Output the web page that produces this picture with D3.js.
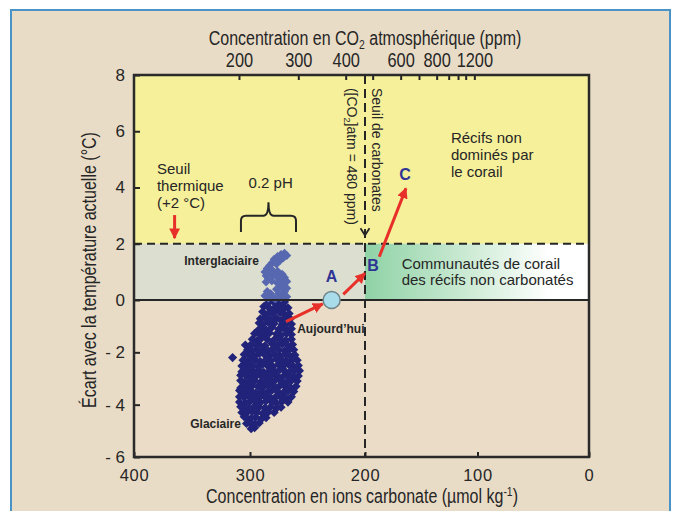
<!DOCTYPE html>
<html><head><meta charset="utf-8">
<script src="https://cdn.jsdelivr.net/npm/d3@7"></script>
<style>
html,body{margin:0;padding:0;background:#fff;}
svg{display:block;}
</style></head><body>
<svg id="chart" width="675" height="511"></svg>
<script>
// ---- data ----
const carbonateTicks = [400, 300, 200, 100, 0];
const tempTicks = [8, 6, 4, 2, 0, -2, -4, -6];
const co2Ticks = [200, 300, 400, 500, 600, 700, 800, 900, 1000, 1100, 1200];
const co2Labelled = [200, 300, 400, 600, 800, 1200];
const co2AsCarbonate = [309.5, 258, 216.8, 193.2, 168.3, 152, 136.3, 125.6, 117.3, 110.5, 102.8];
const thermalThreshold = 2;
const carbonateThreshold = 200;
const pH02Range = [307.8, 260];

const interglacial = [
  [270,1.66],[273,1.62],[268,1.58],[276,1.55],[271,1.5],[279,1.45],[274,1.4],[281,1.32],[277,1.28],[283,1.22],
  [285,1.12],[281,1.08],[287,1.0],[283,0.95],[286,0.86],[280,0.9],[284,0.76],[281,0.68],[286,0.64],
  [276,1.02],[272,0.92],[277,0.84],[270,0.8],[274,0.72],[268,0.66],[276,0.6],[271,0.54],[273,0.45],[268,0.42],
  [277,0.38],[270,0.3],[275,0.22],[271,0.16],
  [285,0.3],[282,0.22],[287,0.15],[280,0.1],[284,0.06],[278,0.04],[273,0.08],[268,0.12]
];

const glacial = [
  [270,-0.08],[275,-0.12],[280,-0.05],[284,-0.1],[272,-0.2],
  [267,-0.3],[271,-0.35],[278,-0.28],[283,-0.32],[288,-0.25],[275,-0.4],
  [266,-0.52],[270,-0.55],[274,-0.48],[280,-0.5],[285,-0.55],[289,-0.45],
  [265,-0.72],[269,-0.68],[277,-0.7],[282,-0.75],[287,-0.68],[291,-0.72],[273,-0.78],
  [264,-0.92],[268,-0.88],[272,-0.95],[279,-0.9],[284,-0.86],[289,-0.94],[292,-0.88],
  [264,-1.1],[267,-1.15],[271,-1.08],[275,-1.12],[281,-1.05],[286,-1.14],[290,-1.1],[293,-1.16],
  [264,-1.32],[268,-1.28],[273,-1.35],[277,-1.3],[283,-1.26],[288,-1.34],[292,-1.3],[296,-1.28],
  [264,-1.5],[269,-1.54],[274,-1.48],[279,-1.52],[285,-1.5],[290,-1.46],[294,-1.55],[298,-1.5],
  [304,-1.72],
  [263,-1.7],[267,-1.74],[272,-1.68],[276,-1.72],[281,-1.66],[287,-1.75],[292,-1.7],[296,-1.68],[300,-1.74],
  [262,-1.9],[266,-1.88],[270,-1.94],[275,-1.9],[280,-1.86],[284,-1.95],[289,-1.9],[294,-1.88],[298,-1.94],[302,-1.9],
  [261,-2.1],[265,-2.14],[269,-2.08],[274,-2.12],[279,-2.06],[283,-2.15],[287,-2.1],[292,-2.05],[296,-2.14],[301,-2.1],[305,-2.08],
  [315,-2.2],
  [259,-2.3],[263,-2.28],[268,-2.34],[272,-2.3],[277,-2.26],[282,-2.32],[286,-2.28],[291,-2.35],[295,-2.3],[300,-2.26],[304,-2.32],[306,-2.3],
  [258,-2.5],[262,-2.54],[266,-2.48],[271,-2.52],[275,-2.46],[280,-2.54],[285,-2.5],[289,-2.46],[293,-2.55],[298,-2.5],[302,-2.48],[307,-2.52],
  [257,-2.7],[261,-2.68],[265,-2.74],[270,-2.7],[274,-2.66],[279,-2.72],[283,-2.7],[288,-2.76],[292,-2.68],[297,-2.72],[301,-2.7],[305,-2.66],[307,-2.74],
  [258,-2.9],[262,-2.94],[267,-2.88],[271,-2.92],[276,-2.9],[281,-2.86],[285,-2.95],[290,-2.9],[294,-2.88],[299,-2.92],[303,-2.9],[308,-2.88],
  [259,-3.1],[264,-3.08],[268,-3.14],[273,-3.1],[278,-3.06],[282,-3.12],[287,-3.1],[291,-3.15],[296,-3.08],[300,-3.1],[305,-3.14],[308,-3.08],
  [260,-3.3],[265,-3.34],[270,-3.28],[275,-3.32],[279,-3.3],[284,-3.26],[289,-3.34],[293,-3.3],[298,-3.28],[302,-3.32],[306,-3.3],[308,-3.36],
  [262,-3.5],[267,-3.48],[271,-3.54],[276,-3.5],[281,-3.46],[285,-3.52],[290,-3.5],[295,-3.55],[299,-3.48],[303,-3.5],[307,-3.54],[309,-3.46],
  [264,-3.7],[269,-3.74],[274,-3.68],[278,-3.72],[283,-3.7],[288,-3.66],[292,-3.74],[297,-3.7],[301,-3.68],[305,-3.72],[309,-3.7],
  [267,-3.9],[272,-3.88],[277,-3.94],[281,-3.9],[286,-3.86],[291,-3.92],[295,-3.9],[300,-3.88],[304,-3.94],[309,-3.9],
  [273,-4.1],[277,-4.14],[282,-4.08],[287,-4.12],[292,-4.1],[296,-4.06],[301,-4.14],[305,-4.1],[308,-4.08],
  [279,-4.3],[284,-4.28],[289,-4.34],[294,-4.3],[298,-4.26],[303,-4.32],[307,-4.3],
  [286,-4.5],[290,-4.54],[295,-4.48],[299,-4.52],[303,-4.5],[305,-4.46],
  [292,-4.7],[296,-4.74],[300,-4.68],[303,-4.72],
  [296,-4.88],[299,-4.92],[298,-4.8]
];

const pointA = [229, 0];
const pathArrows = [
  [[268.7, -0.83], [236.8, -0.15]],
  [[218.9, 0.2], [200, 0.95]],
  [[187.3, 1.54], [163.6, 3.97]]
];
const thermalArrow = [[365, 3.02], [365, 2.2]];

// ---- scales ----
const svg = d3.select("#chart");
const x = d3.scaleLinear().domain(carbonateTicks).range([134, 250, 365, 477.5, 589]);
const y = d3.scaleLinear().domain([-6, 0, 8]).range([457, 300, 75]);
const co2x = d3.scaleLinear().domain(co2Ticks).range(co2AsCarbonate.map(x));

const SANS = "'Liberation Sans',Arial,Helvetica,sans-serif";
const INK = "#262626";
const NARROW_SCALE = "scale(0.8,1)";

// background card
svg.append("rect").attr("width", 675).attr("height", 511).attr("fill", "#fff");
svg.append("rect").attr("x", 11).attr("y", 10).attr("width", 659).attr("height", 530)
  .attr("fill", "#e9dcc6").attr("stroke", "#4a93c6").attr("stroke-width", 2);

const defs = svg.append("defs");
const grad = defs.append("linearGradient").attr("id", "greenFade")
  .attr("gradientUnits", "userSpaceOnUse")
  .attr("x1", x(carbonateThreshold)).attr("x2", x(0)).attr("y1", 0).attr("y2", 0);
grad.append("stop").attr("offset", 0).attr("stop-color", "#8fd2a6");
grad.append("stop").attr("offset", 0.45).attr("stop-color", "#cbead3");
grad.append("stop").attr("offset", 0.82).attr("stop-color", "#ffffff");
grad.append("stop").attr("offset", 1).attr("stop-color", "#ffffff");

defs.append("marker").attr("id", "redHead").attr("viewBox", "0 0 10 10")
  .attr("refX", 9).attr("refY", 5).attr("markerWidth", 3.6).attr("markerHeight", 3.6)
  .attr("orient", "auto").attr("markerUnits", "strokeWidth")
  .append("path").attr("d", "M0,0 L10,5 L0,10 Z").attr("fill", "#e8302a");

// regions
svg.append("rect").attr("x", x(400)).attr("y", y(8)).attr("width", x(0) - x(400))
  .attr("height", y(thermalThreshold) - y(8)).attr("fill", "#f6f09b");
svg.append("rect").attr("x", x(400)).attr("y", y(thermalThreshold)).attr("width", x(carbonateThreshold) - x(400))
  .attr("height", y(0) - y(thermalThreshold)).attr("fill", "#dcdecf");
svg.append("rect").attr("x", x(carbonateThreshold)).attr("y", y(thermalThreshold)).attr("width", x(0) - x(carbonateThreshold))
  .attr("height", y(0) - y(thermalThreshold)).attr("fill", "url(#greenFade)");
svg.append("rect").attr("x", x(400)).attr("y", y(0)).attr("width", x(0) - x(400))
  .attr("height", y(-6) - y(0)).attr("fill", "#eadcc6");

// scatter
svg.append("g").selectAll("path").data(glacial).join("path")
  .attr("d", d3.symbol(d3.symbolSquare, 42))
  .attr("transform", d => `translate(${x(d[0])},${y(d[1])}) rotate(45)`)
  .attr("fill", "#21237a");
svg.append("g").selectAll("path").data(interglacial).join("path")
  .attr("d", d3.symbol(d3.symbolSquare, 40))
  .attr("transform", d => `translate(${x(d[0])},${y(d[1])}) rotate(45)`)
  .attr("fill", "#5868b0");

// threshold lines
svg.append("line").attr("x1", x(400)).attr("x2", x(0)).attr("y1", y(0)).attr("y2", y(0))
  .attr("stroke", INK).attr("stroke-width", 2);
svg.append("line").attr("x1", x(400)).attr("x2", x(0)).attr("y1", y(thermalThreshold)).attr("y2", y(thermalThreshold))
  .attr("stroke", INK).attr("stroke-width", 2).attr("stroke-dasharray", "8,5");
svg.append("line").attr("x1", x(carbonateThreshold)).attr("x2", x(carbonateThreshold)).attr("y1", y(8)).attr("y2", y(-6))
  .attr("stroke", INK).attr("stroke-width", 2).attr("stroke-dasharray", "9,5");
{
  const cx = x(carbonateThreshold), cy = y(2.3);
  svg.append("path").attr("d", `M${cx - 4.5},${cy - 7} L${cx},${cy} L${cx + 4.5},${cy - 7}`)
    .attr("fill", "none").attr("stroke", INK).attr("stroke-width", 1.8);
}

// brace 0.2 pH
{
  const x1 = x(pH02Range[0]), x2 = x(pH02Range[1]), xm = (x1 + x2) / 2;
  const yTip = y(2.42), yBar = y(3.0), yPeak = y(3.48), r = 5;
  const d = `M${x1},${yTip} L${x1},${yBar + r} Q${x1},${yBar} ${x1 + r},${yBar} L${xm - r},${yBar} Q${xm},${yBar} ${xm},${yPeak}` +
            ` M${xm},${yPeak} Q${xm},${yBar} ${xm + r},${yBar} L${x2 - r},${yBar} Q${x2},${yBar} ${x2},${yBar + r} L${x2},${yTip}`;
  svg.append("path").attr("d", d).attr("fill", "none").attr("stroke", INK).attr("stroke-width", 2);
}

// red arrows
const arrowG = svg.append("g");
pathArrows.concat([thermalArrow]).forEach(a => {
  arrowG.append("line")
    .attr("x1", x(a[0][0])).attr("y1", y(a[0][1]))
    .attr("x2", x(a[1][0])).attr("y2", y(a[1][1]))
    .attr("stroke", "#e8302a").attr("stroke-width", 3)
    .attr("marker-end", "url(#redHead)");
});

// point A
svg.append("circle").attr("cx", x(pointA[0])).attr("cy", y(pointA[1])).attr("r", 8.5)
  .attr("fill", "#a9dcea").attr("stroke", "#6f8288").attr("stroke-width", 1.5);

// letters
const letters = [["A", 229, 0.63], ["B", 192.9, 1.04], ["C", 164.4, 4.27]];
svg.append("g").selectAll("text").data(letters).join("text")
  .attr("x", d => x(d[1])).attr("y", d => y(d[2])).attr("text-anchor", "middle")
  .attr("font-family", SANS).attr("font-weight", "bold").attr("font-size", 16)
  .attr("fill", "#2e3595").text(d => d[0]);

// bold labels
const boldLabels = [
  ["Interglaciaire", 292.2, 1.24, "end"],
  ["Glaciaire", 307.8, -4.89, "end"],
  ["Aujourd’hui", 259, -1.26, "start"]
];
svg.append("g").selectAll("text").data(boldLabels).join("text")
  .attr("x", d => x(d[1])).attr("y", d => y(d[2])).attr("text-anchor", d => d[3])
  .attr("font-family", SANS).attr("font-weight", "bold").attr("font-size", 12)
  .attr("fill", INK).text(d => d[0]);

// multi-line annotations
function block(lines, c, t0, dy) {
  const tx = svg.append("text").attr("font-family", SANS).attr("font-size", 15).attr("fill", INK);
  lines.forEach((l, i) => tx.append("tspan").attr("x", x(c)).attr("y", y(t0) + i * dy).text(l));
}
block(["Seuil", "thermique", "(+2 °C)"], 380.2, 4.48, 17);
block(["Récifs non", "dominés par", "le corail"], 123.6, 5.57, 16.7);
block(["Communautés de corail", "des récifs non carbonatés"], 167.4, 1.12, 16.5);
svg.append("text").attr("x", x(282)).attr("y", y(3.98)).attr("text-anchor", "middle")
  .attr("font-family", SANS).attr("font-size", 15).attr("fill", INK).text("0.2 pH");

// vertical texts
svg.append("text").attr("transform", `translate(${x(193.8)},${y(7.54)}) rotate(90)`)
  .attr("font-family", SANS).attr("font-size", 14).attr("fill", INK).text("Seuil de carbonates");
{
  const t = svg.append("text").attr("transform", `translate(${x(215.7)},${y(7.54)}) rotate(90)`)
    .attr("font-family", SANS).attr("font-size", 14).attr("fill", INK);
  t.append("tspan").text("([CO");
  t.append("tspan").attr("font-size", 9).attr("dy", 3).text("2");
  t.append("tspan").attr("dy", -3).text("]atm = 480 ppm)");
}

// axes
function styleAxis(g) {
  g.select(".domain").remove();
  g.selectAll(".tick line").attr("stroke", INK).attr("stroke-width", 2);
  g.selectAll(".tick text").attr("fill", INK);
}
svg.append("g").attr("transform", `translate(0,${y(-6)})`)
  .call(d3.axisBottom(x).tickValues(carbonateTicks).tickSizeInner(-5).tickSizeOuter(0).tickPadding(12))
  .call(styleAxis)
  .call(g => g.selectAll(".tick text").attr("font-family", SANS).attr("font-size", 16.5).attr("letter-spacing", 0.6));
svg.append("g").attr("transform", `translate(${x(400)},0)`)
  .call(d3.axisLeft(y).tickValues(tempTicks).tickSizeInner(-6).tickSizeOuter(0).tickPadding(9)
    .tickFormat(d => d < 0 ? "- " + Math.abs(d) : d))
  .call(styleAxis)
  .call(g => g.selectAll(".tick text").attr("font-family", SANS).attr("font-size", 17));
svg.append("g").attr("transform", `translate(0,${y(8)})`)
  .call(d3.axisTop(co2x).tickValues(co2Ticks).tickSizeInner(-5).tickSizeOuter(0).tickPadding(8)
    .tickFormat(d => co2Labelled.includes(d) ? d : ""))
  .call(styleAxis)
  .call(g => g.selectAll(".tick text").attr("font-family", SANS).attr("font-size", 20)
    .attr("transform", "scale(0.82,1)"));

// frame
svg.append("rect").attr("x", x(400)).attr("y", y(8)).attr("width", x(0) - x(400)).attr("height", y(-6) - y(8))
  .attr("fill", "none").attr("stroke", "#2a2a2a").attr("stroke-width", 2.5);

// axis titles (condensed via horizontal scale)
{
  const t = svg.append("text").attr("transform", `translate(365,45) ${NARROW_SCALE}`).attr("text-anchor", "middle")
    .attr("font-family", SANS).attr("font-size", 20).attr("fill", INK);
  t.append("tspan").text("Concentration en CO");
  t.append("tspan").attr("font-size", 13).attr("dy", 4).text("2");
  t.append("tspan").attr("dy", -4).text(" atmosphérique (ppm)");
}
{
  const t = svg.append("text").attr("transform", `translate(362,503) ${NARROW_SCALE}`).attr("text-anchor", "middle")
    .attr("font-family", SANS).attr("font-size", 20).attr("fill", INK);
  t.append("tspan").text("Concentration en ions carbonate (µmol kg");
  t.append("tspan").attr("font-size", 13).attr("dy", -7).text("-1");
  t.append("tspan").attr("dy", 7).text(")");
}
svg.append("text").attr("transform", `translate(96,270) rotate(-90) ${NARROW_SCALE}`).attr("text-anchor", "middle")
  .attr("font-family", SANS).attr("font-size", 20).attr("fill", INK)
  .text("Écart avec la température actuelle (°C)");
</script>
</body></html>
